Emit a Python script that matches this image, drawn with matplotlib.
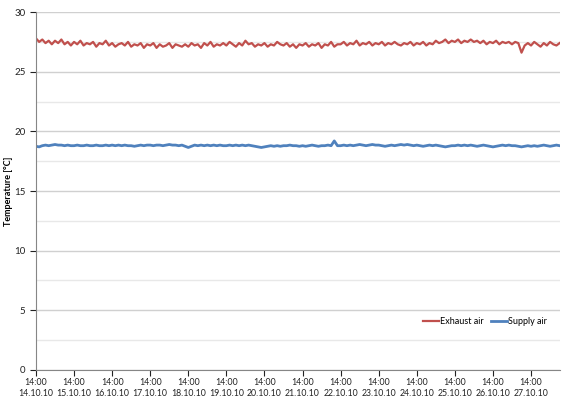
import numpy as np
import matplotlib.pyplot as plt
from matplotlib.ticker import MultipleLocator

plt.rcParams['font.family'] = ['Lato', 'DejaVu Sans']

# readings every 2 hours, starting 14.10.10 14:00
exhaust_air = [
    27.8, 27.5, 27.7, 27.4, 27.6, 27.3, 27.6, 27.4, 27.7, 27.3, 27.5, 27.2,
    27.5, 27.3, 27.6, 27.2, 27.4, 27.3, 27.5, 27.1, 27.4, 27.3, 27.6, 27.2,
    27.4, 27.1, 27.3, 27.4, 27.2, 27.5, 27.1, 27.3, 27.2, 27.4, 27.0, 27.3,
    27.2, 27.4, 27.0, 27.3, 27.1, 27.2, 27.4, 27.0, 27.3, 27.2, 27.1, 27.3,
    27.1, 27.4, 27.2, 27.3, 27.0, 27.4, 27.2, 27.5, 27.1, 27.3, 27.2, 27.4,
    27.2, 27.5, 27.3, 27.1, 27.4, 27.2, 27.6, 27.3, 27.4, 27.1, 27.3, 27.2,
    27.4, 27.1, 27.3, 27.2, 27.5, 27.3, 27.2, 27.4, 27.1, 27.3, 27.0, 27.3,
    27.2, 27.4, 27.1, 27.3, 27.2, 27.4, 27.0, 27.3, 27.2, 27.5, 27.1, 27.3,
    27.3, 27.5, 27.2, 27.4, 27.3, 27.6, 27.2, 27.4, 27.3, 27.5, 27.2, 27.4,
    27.3, 27.5, 27.2, 27.4, 27.3, 27.5, 27.3, 27.2, 27.4, 27.3, 27.5, 27.2,
    27.4, 27.3, 27.5, 27.2, 27.4, 27.3, 27.6, 27.4, 27.5, 27.7, 27.4, 27.6,
    27.5, 27.7, 27.4, 27.6, 27.5, 27.7, 27.5, 27.6, 27.4, 27.6, 27.3, 27.5,
    27.4, 27.6, 27.3, 27.5, 27.4, 27.5, 27.3, 27.5, 27.4, 26.6, 27.2, 27.4,
    27.2, 27.5, 27.3, 27.1, 27.4, 27.2, 27.5, 27.3, 27.2, 27.4,
]
supply_air = [
    18.75, 18.7, 18.8, 18.85, 18.8, 18.85, 18.9, 18.85, 18.85, 18.8, 18.85, 18.8,
    18.8, 18.85, 18.8, 18.8, 18.85, 18.8, 18.8, 18.85, 18.8, 18.8, 18.85, 18.8,
    18.85, 18.8, 18.85, 18.8, 18.85, 18.8, 18.8, 18.75, 18.8, 18.85, 18.8, 18.85,
    18.85, 18.8, 18.85, 18.85, 18.8, 18.85, 18.9, 18.85, 18.85, 18.8, 18.85, 18.75,
    18.65, 18.75, 18.85, 18.8, 18.85, 18.8, 18.85, 18.8, 18.85, 18.8, 18.85, 18.8,
    18.8, 18.85, 18.8, 18.85, 18.8, 18.85, 18.8, 18.85, 18.8, 18.75, 18.7, 18.65,
    18.7, 18.75, 18.8, 18.75, 18.8, 18.75, 18.8, 18.8, 18.85, 18.8, 18.8, 18.75,
    18.8, 18.75, 18.8, 18.85, 18.8, 18.75, 18.8, 18.8, 18.85, 18.8, 19.2, 18.8,
    18.8, 18.85, 18.8, 18.85, 18.8, 18.85, 18.9, 18.85, 18.8, 18.85, 18.9, 18.85,
    18.85, 18.8, 18.75, 18.8, 18.85, 18.8, 18.85, 18.9, 18.85, 18.9, 18.85, 18.8,
    18.85, 18.8, 18.75, 18.8, 18.85, 18.8, 18.85, 18.8, 18.75, 18.7, 18.75, 18.8,
    18.8, 18.85, 18.8, 18.85, 18.8, 18.85, 18.8, 18.75, 18.8, 18.85, 18.8, 18.75,
    18.7, 18.75, 18.8, 18.85, 18.8, 18.85, 18.8, 18.8, 18.75, 18.7, 18.75, 18.8,
    18.75, 18.8, 18.75, 18.8, 18.85, 18.8, 18.75, 18.8, 18.85, 18.8,
]
day_labels = ['14:00\n%02d.10.10' % d for d in range(14, 28)]

t = np.arange(len(exhaust_air)) * 2 / 24.0

fig = plt.figure(figsize=(5.62, 4.03), dpi=100)
ax = fig.add_axes([0.064, 0.082, 0.9324, 0.888])

ax.plot(t, exhaust_air, color='#C0504D', lw=1.6, label='Exhaust air')
ax.plot(t, supply_air, color='#4F81BD', lw=2.0, label='Supply air')

ax.set_xlim(0, 13.76)
ax.set_ylim(0, 30)
ax.set_xticks(np.arange(len(day_labels)))
ax.set_xticklabels(day_labels)
ax.yaxis.set_major_locator(MultipleLocator(5))
ax.yaxis.set_minor_locator(MultipleLocator(2.5))
ax.grid(axis='y', which='major', color='#D0D0D0', lw=1)
ax.grid(axis='y', which='minor', color='#E8E8E8', lw=1)
ax.set_axisbelow(True)
ax.tick_params(axis='y', which='minor', length=0)
ax.tick_params(labelsize=6.3, colors='#222222', length=4, width=0.8)
ax.tick_params(axis='y', labelsize=7)
ax.tick_params(axis='x', pad=2)
for s in ['top', 'right']:
    ax.spines[s].set_visible(False)
for s in ['left', 'bottom']:
    ax.spines[s].set_color('#868686')

ax.set_ylabel('Temperature [°C]', fontsize=6.5, fontweight='bold')
ax.yaxis.set_label_coords(-0.043, 0.5)
ax.legend(loc='lower right', bbox_to_anchor=(0.99, 0.1), ncol=2, frameon=False,
          fontsize=6.5, handlelength=1.8, handletextpad=0.1, columnspacing=0.8)

fig.savefig('out.png', dpi=100)
